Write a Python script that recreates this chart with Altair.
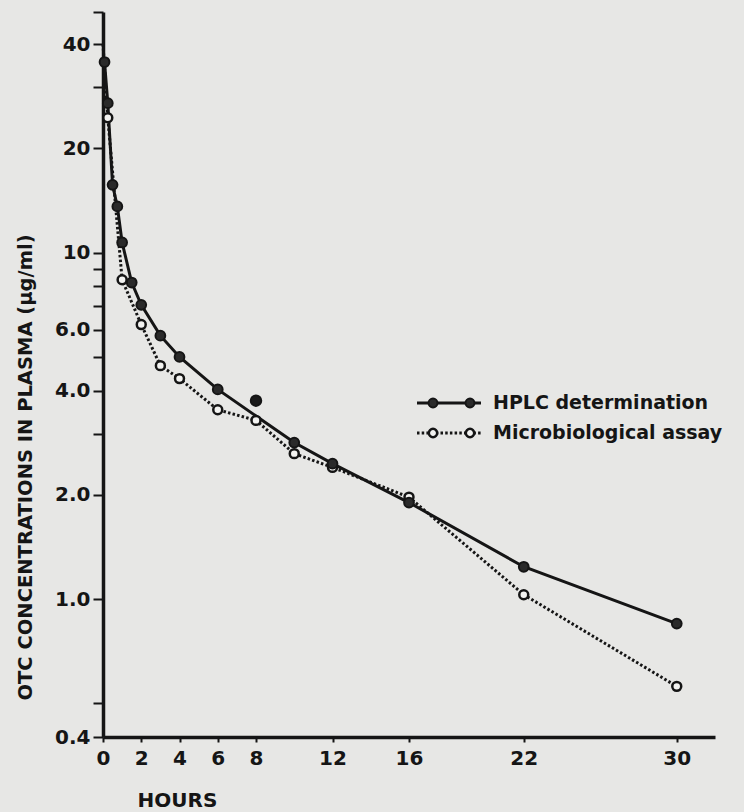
import altair as alt
import pandas as pd

# ---- data ----
hplc_hours = [0.08, 0.25, 0.5, 0.75, 1, 1.5, 2, 3, 4, 6, 10, 12, 16, 22, 30]
hplc_conc = [35.5, 27.0, 15.7, 13.6, 10.7, 8.2, 7.07, 5.76, 5.0, 4.03, 2.83, 2.46, 1.90, 1.24, 0.85]

micro_hours = [0, 0.25, 1, 2, 3, 4, 6, 8, 10, 12, 16, 22, 30]
micro_conc = [40.0, 24.5, 8.35, 6.2, 4.72, 4.33, 3.52, 3.28, 2.63, 2.40, 1.97, 1.03, 0.56]

# HPLC value at 8 h plotted but not joined to the curve
hplc_extra_hours = [8]
hplc_extra_conc = [3.74]

x_ticks = [0, 2, 4, 6, 8, 12, 16, 22, 30]
y_ticks = [0.4, 0.5, 1, 2, 3, 4, 5, 6, 7, 8, 9, 10, 20, 30, 40, 49.5]
y_tick_labels = {0.4: "0.4", 1: "1.0", 2: "2.0", 4: "4.0", 6: "6.0", 10: "10", 20: "20", 40: "40"}
series_names = ["HPLC determination", "Microbiological assay"]

INK = "#151515"
PAPER = "#e7e7e5"
FONT = "DejaVu Sans"

hplc = pd.DataFrame({"hours": hplc_hours, "conc": hplc_conc})
micro = pd.DataFrame({"hours": micro_hours, "conc": micro_conc})
extra = pd.DataFrame({"hours": hplc_extra_hours, "conc": hplc_extra_conc})

label_expr = " : ".join(
    [f"datum.value == {k} ? '{v}'" for k, v in y_tick_labels.items()]
) + " : ''"

x_enc = alt.X(
    "hours:Q",
    scale=alt.Scale(domain=[0, 32], nice=False, zero=False),
    axis=alt.Axis(
        values=x_ticks, title="HOURS", grid=False,
        domainColor=INK, domainWidth=3.5, tickColor=INK, tickWidth=2, tickSize=5,
        labelColor=INK, labelFont=FONT, labelFontWeight="bold", labelFontSize=20,
        labelPadding=6, labelFlush=False, labelOverlap=False,
        titleColor=INK, titleFont=FONT, titleFontWeight="bold", titleFontSize=20,
        titleX=74, titleY=63, titleAlign="center", titleBaseline="middle",
    ),
)
y_enc = alt.Y(
    "conc:Q",
    scale=alt.Scale(type="log", domain=[0.4, 49.5], nice=False),
    axis=alt.Axis(
        values=y_ticks, labelExpr=label_expr,
        title="OTC  CONCENTRATIONS  IN  PLASMA  (µg/ml)", grid=False,
        domainColor=INK, domainWidth=3.5, tickColor=INK, tickWidth=2, tickSize=10,
        labelColor=INK, labelFont=FONT, labelFontWeight="bold", labelFontSize=20,
        labelPadding=3, labelFlush=False, labelOverlap=False,
        titleColor=INK, titleFont=FONT, titleFontWeight="bold", titleFontSize=19.5,
        titleX=-68, titleY=455, titleAngle=270, titleAlign="center", titleBaseline="bottom",
    ),
)

micro_line = alt.Chart(micro).mark_line(
    color=INK, strokeWidth=3, strokeDash=[2.5, 2.2], strokeCap="butt"
).encode(x=x_enc, y=y_enc)
hplc_line = alt.Chart(hplc).mark_line(color=INK, strokeWidth=3).encode(x=x_enc, y=y_enc)
micro_pts = alt.Chart(micro).transform_filter("datum.hours > 0").mark_point(
    shape="circle", filled=False, fill="#f3f3f1", fillOpacity=1, stroke=INK, strokeWidth=2.5, size=80, opacity=1
).encode(x=x_enc, y=y_enc)
hplc_pts = alt.Chart(hplc).mark_point(
    shape="circle", filled=True, fill="#2a2a2a", stroke=INK, strokeWidth=2, size=95, opacity=1
).encode(x=x_enc, y=y_enc)
extra_pts = alt.Chart(extra).mark_point(
    shape="circle", filled=True, fill="#1a1a1a", stroke=INK, strokeWidth=2, size=110, opacity=1
).encode(x=x_enc, y=y_enc)

# ---- hand-built legend ----
one = alt.Data(values=[{"k": 0}])
leg = []
rows = [(391, series_names[0], True), (421, series_names[1], False)]
for yy, name, solid in rows:
    if solid:
        leg.append(alt.Chart(one).mark_rule(color=INK, strokeWidth=3).encode(
            x=alt.value(314), x2=alt.value(378), y=alt.value(yy)))
    else:
        leg.append(alt.Chart(one).mark_rule(color=INK, strokeWidth=3, strokeDash=[2.5, 2.2]).encode(
            x=alt.value(314), x2=alt.value(378), y=alt.value(yy)))
    for cx in (330, 367):
        if solid:
            leg.append(alt.Chart(one).mark_point(
                shape="circle", filled=True, fill="#2a2a2a", stroke=INK, strokeWidth=2, size=80, opacity=1
            ).encode(x=alt.value(cx), y=alt.value(yy)))
        else:
            leg.append(alt.Chart(one).mark_point(
                shape="circle", filled=False, fill="#f3f3f1", fillOpacity=1, stroke=INK, strokeWidth=2.5, size=70, opacity=1
            ).encode(x=alt.value(cx), y=alt.value(yy)))
    leg.append(alt.Chart(one).mark_text(
        text=name, align="left", baseline="middle", font=FONT, fontWeight="bold",
        fontSize=19, color=INK
    ).encode(x=alt.value(390), y=alt.value(yy)))

chart = alt.layer(
    micro_line, hplc_line, micro_pts, hplc_pts, extra_pts, *leg
).properties(
    width=612, height=725,
    autosize=alt.AutoSizeParams(type="none"),
    padding={"left": 103, "top": 12, "right": 29, "bottom": 75},
    background=PAPER,
).configure_view(stroke=None)

chart.save("out.html", embed_options={"renderer": "svg", "actions": False})
